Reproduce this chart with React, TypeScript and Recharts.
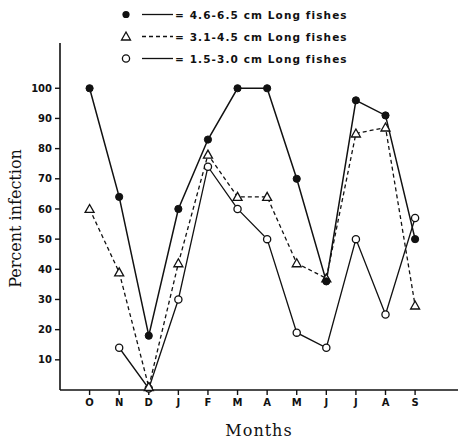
import React from 'react';
import { LineChart, Line, XAxis, YAxis, Label } from 'recharts';

const months = ['O', 'N', 'D', 'J', 'F', 'M', 'A', 'M', 'J', 'J', 'A', 'S'];
const large = [100, 64, 18, 60, 83, 100, 100, 70, 36, 96, 91, 50];
const medium = [60, 39, 1, 42, 78, 64, 64, 42, 37, 85, 87, 28];
const small = [null, 14, 0.5, 30, 74, 60, 50, 19, 14, 50, 25, 57];
const yTicks = [10, 20, 30, 40, 50, 60, 70, 80, 90, 100];
const legendLabels = ['= 4.6-6.5 cm Long fishes', '= 3.1-4.5 cm Long fishes', '= 1.5-3.0 cm Long fishes'];

const data = months.map((m, i) => ({ x: i + 1, m, large: large[i], medium: medium[i], small: small[i] }));

const INK = '#111';
const tickFont = { fontFamily: 'DejaVu Sans', fontSize: 10, fontWeight: 700, fill: INK };

const FilledDot = (p: any) => {
  if (p.cy == null || p.value == null) return null;
  return <circle key={p.key} cx={p.cx} cy={p.cy} r={3.6} fill={INK} stroke={INK} />;
};
const OpenDot = (p: any) => {
  if (p.cy == null || p.value == null) return null;
  return <circle key={p.key} cx={p.cx} cy={p.cy} r={3.6} fill="#fff" stroke={INK} strokeWidth={1.3} />;
};
const TriDot = (p: any) => {
  if (p.cy == null || p.value == null) return null;
  const { cx, cy } = p;
  return (
    <path key={p.key} d={`M${cx},${cy - 4.5} L${cx + 4.5},${cy + 3.5} L${cx - 4.5},${cy + 3.5} Z`} fill="#fff" stroke={INK} strokeWidth={1.3} />
  );
};

const YLabel = (props: any) => {
  const vb = props.viewBox || {};
  const cx = (vb.x ?? 0) + 15;
  const cy = (vb.y ?? 0) + (vb.height ?? 0) / 2 + 2;
  return (
    <text x={cx} y={cy} transform={`rotate(-90, ${cx}, ${cy})`} textAnchor="middle" dominantBaseline="central"
      style={{ fontFamily: 'DejaVu Serif', fontSize: 16, fill: INK }}>
      Percent infection
    </text>
  );
};

export default function App() {
  return (
    <div style={{ position: 'absolute', left: 0, top: 0, width: 461, height: 439, background: '#fff' }}>
      <LineChart width={461} height={439} data={data} margin={{ top: 43, right: 3, bottom: 0, left: 0 }}>
        <XAxis
          dataKey="x"
          type="number"
          domain={[0, 13.45]}
          ticks={[1, 2, 3, 4, 5, 6, 7, 8, 9, 10, 11, 12]}
          tickFormatter={(v: number) => months[v - 1]}
          axisLine={{ stroke: INK, strokeWidth: 1.6 }}
          tickLine={{ stroke: INK, strokeWidth: 1.4 }}
          tickSize={5}
          tick={tickFont}
          tickMargin={4}
          height={49}
        >
          <Label value="Months" position="insideBottom" offset={3} style={{ fontFamily: 'DejaVu Serif', fontSize: 16, fill: INK, letterSpacing: 1 }} />
        </XAxis>
        <YAxis
          type="number"
          domain={[0, 115]}
          ticks={yTicks}
          axisLine={{ stroke: INK, strokeWidth: 1.6 }}
          tickLine={{ stroke: INK, strokeWidth: 1.4 }}
          tickSize={5}
          tick={tickFont}
          tickMargin={3}
          width={60}
        >
          <Label content={YLabel} />
        </YAxis>
        <Line dataKey="small" stroke={INK} strokeWidth={1.3} dot={OpenDot} isAnimationActive={false} connectNulls={false} />
        <Line dataKey="medium" stroke={INK} strokeWidth={1.3} strokeDasharray="4 3" dot={TriDot} isAnimationActive={false} />
        <Line dataKey="large" stroke={INK} strokeWidth={1.5} dot={FilledDot} isAnimationActive={false} />
      </LineChart>
      <svg width={461} height={70} style={{ position: 'absolute', left: 0, top: 0 }}>
        {legendLabels.map((t, i) => {
          const y = 14.5 + i * 22;
          return (
            <g key={i}>
              {i === 0 && <circle cx={126} cy={y} r={3.6} fill={INK} />}
              {i === 1 && <path d={`M126,${y - 4.5} L130.5,${y + 3.5} L121.5,${y + 3.5} Z`} fill="#fff" stroke={INK} strokeWidth={1.3} />}
              {i === 2 && <circle cx={126} cy={y} r={3.6} fill="#fff" stroke={INK} strokeWidth={1.3} />}
              <line x1={142} x2={173} y1={y} y2={y} stroke={INK} strokeWidth={1.3} strokeDasharray={i === 1 ? '4 3' : undefined} />
              <text x={175} y={y + 4} style={{ fontFamily: 'DejaVu Sans', fontSize: 10.5, fontWeight: 700, fill: INK, letterSpacing: 1.1 }}>{t}</text>
            </g>
          );
        })}
      </svg>
    </div>
  );
}
